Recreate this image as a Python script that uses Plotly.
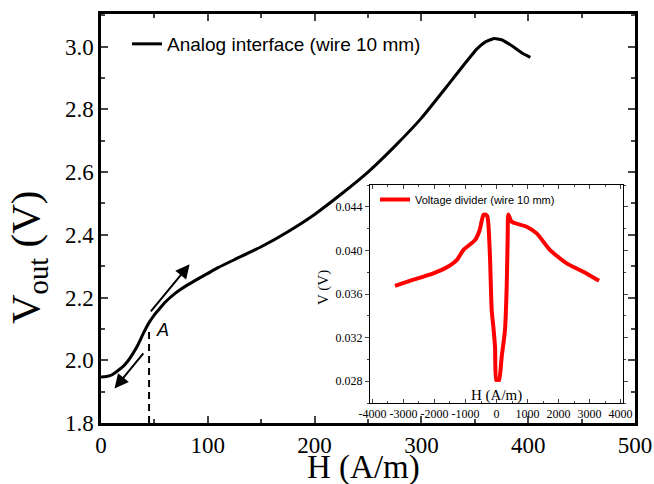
import plotly.graph_objects as go

# ---------------- data ----------------
H_main = [0, 5, 10, 15, 20, 25, 30, 35, 40, 45, 50, 55, 60, 70, 80, 90, 100, 110, 125,
          150, 175, 200, 225, 250, 275, 300, 325, 340, 352, 360, 368, 375, 385, 395, 402]
V_main = [1.947, 1.948, 1.953, 1.965, 1.978, 1.997, 2.022, 2.052, 2.088, 2.120, 2.145,
          2.165, 2.185, 2.215, 2.238, 2.258, 2.277, 2.296, 2.321, 2.362, 2.410, 2.465,
          2.530, 2.600, 2.682, 2.772, 2.878, 2.943, 2.993, 3.015, 3.026, 3.022, 3.002,
          2.978, 2.966]

H_inset = [-3274, -2800, -2038, -1600, -1284, -1070, -693, -550, -426, -371, -300, -264,
           -210, -155, -102, -48, -16, 20, 60, 90, 168, 274, 329, 361, 381, 490, 973,
           1297, 1726, 2264, 2800, 3306]
V_inset = [0.03675, 0.03720, 0.03789, 0.03845, 0.03910, 0.04003, 0.04094, 0.04180,
           0.04324, 0.04330, 0.04315, 0.04248, 0.03941, 0.03452, 0.03300, 0.03116,
           0.02810, 0.02815, 0.02815, 0.02810, 0.03024, 0.03269, 0.03666, 0.04125,
           0.04330, 0.04262, 0.04217, 0.04156, 0.04003, 0.03881, 0.03804, 0.03721]

point_A_H = 45
point_A_V = [1.8, 2.10]

# arrows (tail -> head)
arrow_up_tail = (45.5, 2.151)
arrow_up_head = (83, 2.306)
arrow_dn_tail = (40.8, 2.027)
arrow_dn_head = (12.7, 1.910)

inset_xticks = [-4000, -3000, -2000, -1000, 0, 1000, 2000, 3000, 4000]
inset_xlabels = ["-4000", "-3000", "-2000", "-1000", "0", "1000", "2000", "3000", "4000"]

main_name = "Analog interface (wire 10 mm)"
inset_name = "Voltage divider (wire 10 mm)"

SERIF = "Liberation Serif"
SANS = "Liberation Sans"

fig = go.Figure()

fig.add_trace(go.Scatter(x=H_main, y=V_main, mode="lines", name=main_name,
                         line=dict(color="black", width=3, shape="spline", smoothing=0.4),
                         legend="legend", xaxis="x", yaxis="y"))
fig.add_trace(go.Scatter(x=[point_A_H, point_A_H], y=point_A_V, mode="lines",
                         line=dict(color="black", width=2, dash="7px,5px"),
                         showlegend=False, xaxis="x", yaxis="y"))
fig.add_trace(go.Scatter(x=H_inset, y=V_inset, mode="lines", name=inset_name,
                         line=dict(color="#ff0000", width=4, shape="spline", smoothing=0.5),
                         legend="legend2", xaxis="x2", yaxis="y2"))

ann = []
for tail, head in [(arrow_up_tail, arrow_up_head), (arrow_dn_tail, arrow_dn_head)]:
    ann.append(dict(x=head[0], y=head[1], ax=tail[0], ay=tail[1], xref="x", yref="y",
                    axref="x", ayref="y", text="", showarrow=True, arrowhead=2,
                    arrowsize=1.4, arrowwidth=2, arrowcolor="black"))
ann.append(dict(x=58, y=2.095, xref="x", yref="y", text="<i>A</i>", showarrow=False,
                font=dict(family=SANS, size=18, color="black")))
# main axis titles
ann.append(dict(x=(0 - 101) / 534, y=(423 - 258) / 409, xref="paper", yref="paper",
                xanchor="left", yanchor="middle",
                text="V<sub>out</sub>\u00a0(V)", textangle=-90, showarrow=False,
                font=dict(family=SERIF, size=41, color="black")))
ann.append(dict(x=(363 - 101) / 534, y=-(467 - 423) / 409, xref="paper", yref="paper",
                xanchor="center", yanchor="middle", text="H (A/m)", showarrow=False,
                font=dict(family=SERIF, size=33, color="black")))
# inset axis titles
ann.append(dict(x=0, y=(423 - 395) / 409, xref="x2", yref="paper", text="H (A/m)",
                xanchor="center", yanchor="middle",
                showarrow=False, font=dict(family=SERIF, size=15, color="black")))
ann.append(dict(x=(323 - 101) / 534, y=(423 - 288) / 409, xref="paper", yref="paper",
                xanchor="center", yanchor="middle",
                text="V (V)", textangle=-90, showarrow=False,
                font=dict(family=SERIF, size=15, color="black")))

fig.update_layout(
    template="none",
    width=654, height=484, autosize=False,
    margin=dict(l=101, r=19, t=14, b=61, autoexpand=False),
    paper_bgcolor="white", plot_bgcolor="white",
    annotations=ann,
    xaxis=dict(range=[0, 500], dtick=100, tick0=0, ticks="inside", ticklen=7, tickwidth=2,
               minor=dict(dtick=50, ticks="inside", ticklen=4, tickwidth=2),
               showline=True, linewidth=2.5, linecolor="black", mirror="ticks",
               showgrid=False, zeroline=False, automargin=False,
               tickfont=dict(family=SERIF, size=23, color="black")),
    yaxis=dict(range=[1.8, 3.104], dtick=0.2, tick0=1.8, tickformat=".1f", ticks="inside",
               ticklen=7, tickwidth=2,
               minor=dict(dtick=0.1, ticks="inside", ticklen=4, tickwidth=2),
               showline=True, linewidth=2.5, linecolor="black", mirror="ticks",
               showgrid=False, zeroline=False, automargin=False,
               tickfont=dict(family=SERIF, size=23, color="black")),
    xaxis2=dict(domain=[(370 - 101) / 534, (623 - 101) / 534], anchor="y2",
                range=[-4080, 4080], tickvals=inset_xticks, ticktext=inset_xlabels,
                ticks="inside", ticklen=4, tickwidth=1,
                minor=dict(dtick=500, ticks="inside", ticklen=2, tickwidth=1),
                showline=True, linewidth=1, linecolor="black", mirror="ticks",
                showgrid=False, zeroline=False, automargin=False,
                tickfont=dict(family=SERIF, size=12, color="black")),
    yaxis2=dict(domain=[(423 - 403) / 409, (423 - 185) / 409], anchor="x2",
                range=[0.0260, 0.0460], dtick=0.004, tick0=0, tickformat=".3f",
                ticks="outside", ticklen=4, tickwidth=1,
                minor=dict(dtick=0.002, ticks="outside", ticklen=2, tickwidth=1),
                showline=True, linewidth=1, linecolor="black", mirror="ticks",
                showgrid=False, zeroline=False, automargin=False,
                tickfont=dict(family=SERIF, size=12, color="black")),
    legend=dict(x=(127 - 101) / 534, y=(423 - 25) / 409, xanchor="left", yanchor="top",
                bgcolor="rgba(0,0,0,0)", font=dict(family=SANS, size=19, color="black")),
    legend2=dict(x=(375 - 101) / 534, y=(423 - 185) / 409, xanchor="left", yanchor="top",
                 bgcolor="rgba(0,0,0,0)", font=dict(family=SANS, size=11, color="black")),
    showlegend=True,
)

fig.write_html("out.html",
               config={"displayModeBar": False, "responsive": False},
               default_width="654px", default_height="484px",
               post_script="document.body.style.margin='0';document.body.style.overflow='hidden';")
